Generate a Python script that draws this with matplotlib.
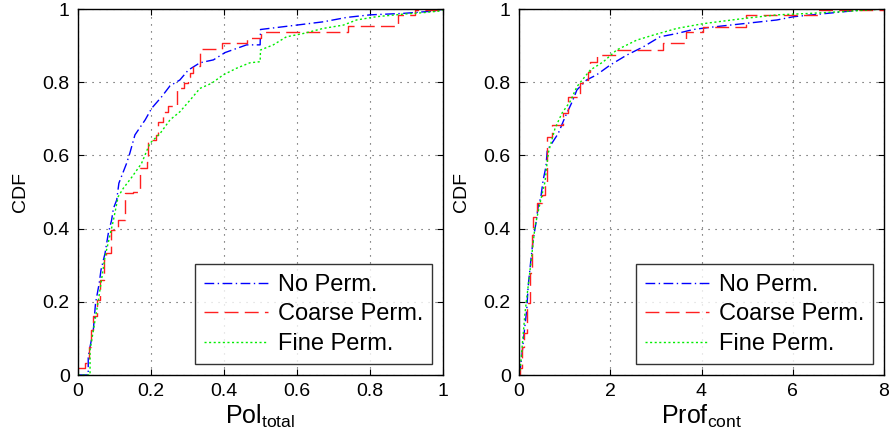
import matplotlib
matplotlib.use("Agg")
import matplotlib.pyplot as plt

plt.rcParams['font.family'] = ['Liberation Sans', 'DejaVu Sans']
plt.rcParams['mathtext.fontset'] = 'custom'
plt.rcParams['mathtext.rm'] = 'Liberation Sans'

series_names = ["No Perm.", "Coarse Perm.", "Fine Perm."]

# ---- Left panel: Pol_total ----
pol_no_x = [0.0, 0.028, 0.028, 0.033, 0.042, 0.048, 0.058, 0.063, 0.074, 0.083, 0.092, 0.097,
            0.106, 0.112, 0.124, 0.133, 0.142, 0.156, 0.184, 0.202, 0.229, 0.252, 0.279, 0.302,
            0.334, 0.371, 0.403, 0.462, 0.499, 0.500, 0.599, 0.672, 0.736, 0.800, 0.891, 0.983, 1.0]
pol_no_y = [0.0, 0.0, 0.05, 0.077, 0.123, 0.196, 0.25, 0.287, 0.332, 0.387, 0.423, 0.455,
            0.478, 0.524, 0.555, 0.578, 0.606, 0.656, 0.697, 0.729, 0.760, 0.790, 0.806, 0.833,
            0.853, 0.861, 0.881, 0.902, 0.902, 0.944, 0.956, 0.965, 0.977, 0.984, 0.988, 0.995, 1.0]

pol_coarse_x = [0.0, 0.019, 0.030, 0.036, 0.042, 0.051, 0.060, 0.072, 0.078, 0.090, 0.110, 0.129,
                0.152, 0.170, 0.188, 0.193, 0.214, 0.220, 0.232, 0.247, 0.270, 0.290, 0.302, 0.307,
                0.316, 0.334, 0.394, 0.462, 0.500, 0.741, 0.878, 0.923, 1.0]
pol_coarse_y = [0.02, 0.032, 0.077, 0.123, 0.160, 0.205, 0.260, 0.314, 0.332, 0.396, 0.423, 0.496,
                0.500, 0.565, 0.583, 0.642, 0.656, 0.692, 0.719, 0.735, 0.783, 0.799, 0.813, 0.826,
                0.844, 0.890, 0.906, 0.922, 0.938, 0.954, 0.984, 0.997, 1.0]

pol_fine_x = [0.0, 0.033, 0.033, 0.056, 0.074, 0.097, 0.110, 0.124, 0.147, 0.174, 0.197, 0.225,
              0.252, 0.279, 0.307, 0.334, 0.366, 0.398, 0.434, 0.471, 0.499, 0.500, 0.535, 0.571,
              0.617, 0.672, 0.727, 0.763, 0.818, 0.891, 0.946, 0.996, 1.0]
pol_fine_y = [0.0, 0.0, 0.068, 0.205, 0.323, 0.423, 0.487, 0.510, 0.540, 0.578, 0.633, 0.660,
              0.697, 0.719, 0.751, 0.783, 0.797, 0.820, 0.838, 0.853, 0.856, 0.888, 0.902, 0.924,
              0.933, 0.947, 0.956, 0.970, 0.979, 0.986, 0.990, 0.995, 1.0]

# ---- Right panel: Prof_cont ----
prof_no_x = [0.0, 0.02, 0.06, 0.12, 0.17, 0.20, 0.26, 0.31, 0.37, 0.42, 0.48, 0.53, 0.59, 0.62,
             0.72, 0.86, 1.01, 1.16, 1.27, 1.48, 1.70, 2.00, 2.36, 2.73, 3.09, 3.46, 3.82, 4.19,
             4.92, 5.65, 6.02, 6.75, 7.48, 8.0]
prof_no_y = [0.0, 0.009, 0.05, 0.123, 0.178, 0.241, 0.314, 0.369, 0.414, 0.46, 0.487, 0.533,
             0.569, 0.615, 0.633, 0.66, 0.705, 0.745, 0.779, 0.806, 0.820, 0.847, 0.874, 0.897,
             0.924, 0.933, 0.944, 0.950, 0.960, 0.970, 0.979, 0.988, 0.997, 1.0]

prof_coarse_x = [0.0, 0.03, 0.07, 0.12, 0.17, 0.24, 0.28, 0.31, 0.39, 0.50, 0.57, 0.62, 0.73,
                 0.97, 1.08, 1.34, 1.48, 1.52, 1.56, 1.70, 2.14, 3.16, 3.66, 4.03, 4.98, 6.56, 8.0]
prof_coarse_y = [0.0, 0.02, 0.077, 0.114, 0.196, 0.278, 0.383, 0.433, 0.469, 0.492, 0.528, 0.651,
                 0.683, 0.715, 0.760, 0.797, 0.806, 0.829, 0.856, 0.874, 0.888, 0.906, 0.938,
                 0.952, 0.984, 0.997, 1.0]

prof_fine_x = [0.0, 0.03, 0.13, 0.26, 0.35, 0.46, 0.57, 0.64, 0.79, 0.94, 1.12, 1.27, 1.56,
               1.85, 2.14, 2.58, 2.95, 3.46, 4.04, 4.92, 5.65, 6.38, 7.11, 8.0]
prof_fine_y = [0.0, 0.02, 0.168, 0.305, 0.405, 0.469, 0.528, 0.606, 0.674, 0.715, 0.747, 0.788,
               0.833, 0.856, 0.888, 0.915, 0.929, 0.947, 0.960, 0.974, 0.984, 0.988, 0.993, 1.0]

styles = [
    dict(color='#0000ff', linestyle=(0, (7, 2.5, 1, 2.5))),
    dict(color='#ff2020', linestyle=(0, (10, 4.5))),
    dict(color='#00ee00', linestyle=(0, (1.5, 1.8))),
]
stepped = [False, True, False]

fig = plt.figure(figsize=(8.92, 4.46), dpi=100)
ax1 = fig.add_axes([78/892, 71/446, 365/892, 366/446])
ax2 = fig.add_axes([519/892, 71/446, 365/892, 366/446])

panels = [
    (ax1, [(pol_no_x, pol_no_y), (pol_coarse_x, pol_coarse_y), (pol_fine_x, pol_fine_y)],
     (0, 1), [0, 0.2, 0.4, 0.6, 0.8, 1], ['0', '0.2', '0.4', '0.6', '0.8', '1'],
     r'$\mathrm{Pol}_{\mathrm{total}}$'),
    (ax2, [(prof_no_x, prof_no_y), (prof_coarse_x, prof_coarse_y), (prof_fine_x, prof_fine_y)],
     (0, 8), [0, 2, 4, 6, 8], ['0', '2', '4', '6', '8'],
     r'$\mathrm{Prof}_{\mathrm{cont}}$'),
]

yticks = [0, 0.2, 0.4, 0.6, 0.8, 1]
ytl = ['0', '0.2', '0.4', '0.6', '0.8', '1']

for ax, data, xlim, xt, xtl, xlabel in panels:
    for (xs, ys), name, st, stp in zip(data, series_names, styles, stepped):
        if stp:
            ax.step(xs, ys, where='post', linewidth=1.0, label=name, **st)
        else:
            ax.plot(xs, ys, linewidth=1.0, label=name, **st)
    ax.set_xlim(*xlim)
    ax.set_ylim(0, 1)
    ax.set_xticks(xt)
    ax.set_xticklabels(xtl)
    ax.set_yticks(yticks)
    ax.set_yticklabels(ytl)
    ax.tick_params(direction='in', top=True, right=True, labelsize=14, length=4, width=0.8, pad=6)
    ax.grid(True, linestyle=(0, (1, 5.3)), color='#444444', linewidth=0.8)
    for s in ax.spines.values():
        s.set_linewidth(1.0)
    ax.set_ylabel('CDF', fontsize=14, labelpad=10)
    ax.set_xlabel(xlabel, fontsize=18, labelpad=2)
    leg = ax.legend(loc='lower right', fontsize=17, handlelength=2.7, frameon=True,
                    fancybox=False, borderaxespad=0.45, labelspacing=0.32, handletextpad=0.4,
                    borderpad=0.4)
    leg.get_frame().set_edgecolor('black')
    leg.get_frame().set_linewidth(1.0)

fig.savefig('out.png', dpi=100)
